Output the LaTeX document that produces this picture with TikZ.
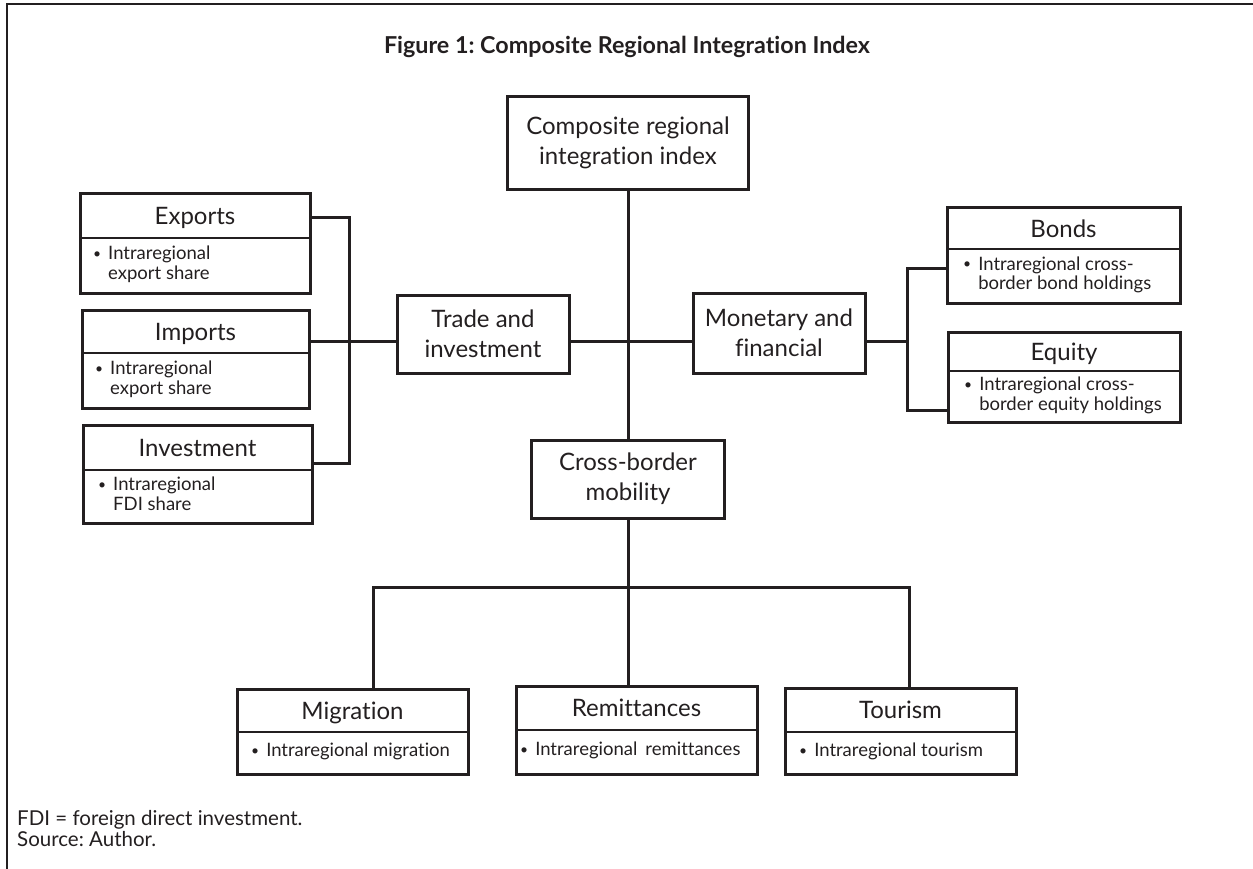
\documentclass[tikz,border=0pt]{standalone}
\usepackage{fontspec}
\setmainfont{Lato}[Ligatures={NoCommon}]
\usetikzlibrary{fit,calc}
\definecolor{ink}{HTML}{231F20}
\newcommand{\bul}{\raisebox{0.08em}{\scalebox{0.75}{\textbullet}}}
\newcommand{\bullist}[1]{\begin{tabular}{@{}l@{\hspace{7pt}}l@{}}#1\end{tabular}}
\newcommand{\twobox}[9]{%
  \coordinate (#1-nw) at (#2,#3);
  \coordinate (#1-se) at (#4,#5);
  \node[boxframe, fit=(#1-nw)(#1-se)] (#1) {};
  \draw[divline] (#2,#6) -- (#4,#6);
  \node[header, anchor=base] (#1-h) at ({(#2+#4)/2},{(#3+#6)/2+8.5}) {#7};
  \node[bodytext, anchor=west] (#1-b) at ({#2+#9},{(#6+#5)/2}) {#8};
}
\begin{document}
\frenchspacing
\begin{tikzpicture}[x=1pt,y=-1pt,
  boxframe/.style={draw=ink, line width=3pt, inner sep=0pt},
  divline/.style={draw=ink, line width=1.8pt},
  conn/.style={draw=ink, line width=3pt},
  header/.style={text=ink, font=\fontsize{24}{30}\selectfont, align=center, inner sep=0pt},
  bodytext/.style={text=ink, font=\fontsize{18.5}{19.5}\selectfont, inner sep=0pt, align=left},
  note/.style={text=ink, font=\fontsize{20.5}{21}\selectfont, inner sep=0pt, anchor=base west},
]
\useasboundingbox (0,0) rectangle (1253,869);
% frame
\draw[ink, line width=2.5pt] (1253,4) -- (7,4) -- (7,869);
% title
\node[text=ink, font=\fontsize{23.3}{28}\selectfont\bfseries] (title) at (627,47) {Figure 1: Composite Regional Integration Index};
% central boxes
\node[boxframe, header, minimum width=241pt, minimum height=93pt] (cri) at (628,143) {Composite regional\\integration index};
\node[boxframe, header, minimum width=172pt, minimum height=78pt] (trade) at (483,334) {Trade and\\investment};
\node[boxframe, header, minimum width=172pt, minimum height=80pt] (mon) at (779,333) {Monetary and\\financial};
\node[boxframe, header, minimum width=193pt, minimum height=78pt] (cb) at (628,479) {Cross-border\\mobility};
% two-part boxes
\twobox{exp}{80}{194}{310}{293}{238}{Exports}{\bullist{\bul & Intraregional\\ & export share}}{13}
\twobox{imp}{82}{310}{309}{408}{353}{Imports}{\bullist{\bul & Intraregional\\ & export share}}{13}
\twobox{inv}{83}{425}{312}{523}{470}{Investment}{\bullist{\bul & Intraregional\\ & FDI share}}{15}
\twobox{bonds}{947}{208}{1180}{303}{249}{Bonds}{\bullist{\bul & Intraregional cross-\\ & border bond holdings}}{16}
\twobox{equity}{948}{332}{1180}{422}{371}{Equity}{\bullist{\bul & Intraregional cross-\\ & border equity holdings}}{16}
\twobox{mig}{237}{689}{468}{774}{732}{Migration}{\bullist{\bul & Intraregional migration}}{14}
\twobox{rem}{516}{686}{757}{774}{730}{Remittances}{\bullist{\bul & Intraregional\hspace{8pt}remittances}}{4}
\twobox{tour}{785}{688}{1016}{774}{732}{Tourism}{\bullist{\bul & Intraregional tourism}}{14}
% junction coordinates
\coordinate (jl) at (349,341);
\coordinate (lt) at (349,218);
\coordinate (lb) at (349,463);
\coordinate (cm) at (628,341);
\coordinate (rj) at (907,341);
\coordinate (rt) at (907,268);
\coordinate (rb) at (907,410);
\coordinate (bj) at (628,587);
\coordinate (bl) at (373,587);
\coordinate (br) at (909,587);
% connectors
\draw[conn] (exp.east |- lt) -- (lt) -- (lb) -- (inv.east |- lb);
\draw[conn] (imp.east |- jl) -- (trade.west |- jl);
\draw[conn] (trade.east |- cm) -- (mon.west |- cm);
\draw[conn] (cri.south) -- (cb.north);
\draw[conn] (mon.east |- rj) -- (rj);
\draw[conn] (bonds.west |- rt) -- (rt) -- (rb) -- (equity.west |- rb);
\draw[conn] (cb.south) -- (bj);
\draw[conn] (mig.north -| bl) -- (bl) -- (br) -- (tour.north -| br);
\draw[conn] (bj) -- (rem.north -| bj);
% notes
\node[note] (fdi) at (17,825) {FDI = foreign direct investment.};
\node[note] (src) at (17,846) {Source: Author.};
\end{tikzpicture}
\end{document}
